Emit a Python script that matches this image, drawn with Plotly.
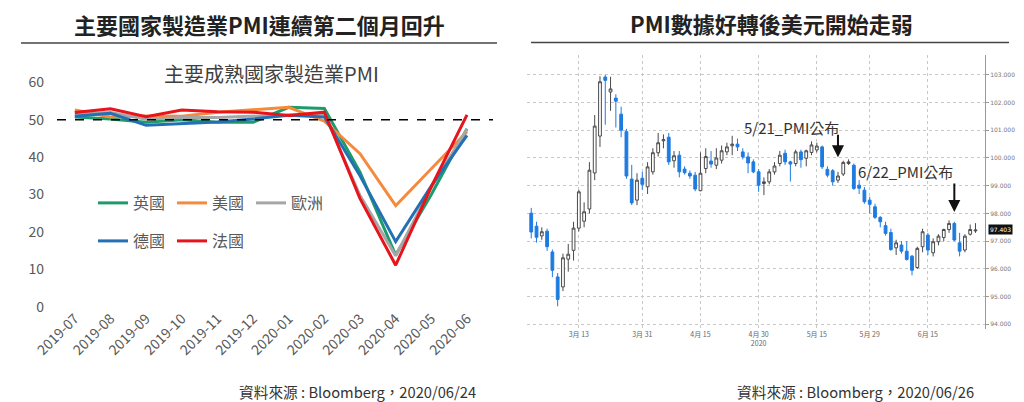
import plotly.graph_objects as go

# ---- left panel: composite PMI by country ----
months = ["2019-07", "2019-08", "2019-09", "2019-10", "2019-11", "2019-12",
          "2020-01", "2020-02", "2020-03", "2020-04", "2020-05", "2020-06"]
pmi_uk = [50.7, 50.2, 49.3, 50.0, 49.3, 49.3, 53.3, 53.0, 36.0, 13.8, 30.0, 47.6]
pmi_us = [52.6, 50.7, 51.0, 50.9, 52.0, 52.7, 53.3, 49.6, 40.9, 27.0, 37.0, 46.8]
pmi_eu = [51.5, 51.9, 50.1, 50.6, 50.6, 50.9, 51.3, 51.6, 29.7, 13.6, 31.9, 47.5]
pmi_de = [50.9, 51.7, 48.5, 48.9, 49.4, 50.2, 51.2, 50.7, 35.0, 17.4, 32.3, 45.8]
pmi_fr = [51.9, 52.9, 50.8, 52.6, 52.1, 52.0, 51.1, 52.0, 28.9, 11.1, 32.1, 51.3]

# ---- right panel: US dollar index daily candles ----
days = (
    ["2020-03-02", "2020-03-03", "2020-03-04", "2020-03-05", "2020-03-06",
     "2020-03-09", "2020-03-10", "2020-03-11", "2020-03-12", "2020-03-13",
     "2020-03-16", "2020-03-17", "2020-03-18", "2020-03-19", "2020-03-20",
     "2020-03-23", "2020-03-24", "2020-03-25", "2020-03-26", "2020-03-27",
     "2020-03-30", "2020-03-31"]
    + ["2020-04-01", "2020-04-02", "2020-04-03", "2020-04-06", "2020-04-07",
       "2020-04-08", "2020-04-09", "2020-04-10", "2020-04-13", "2020-04-14",
       "2020-04-15", "2020-04-16", "2020-04-17", "2020-04-20", "2020-04-21",
       "2020-04-22", "2020-04-23", "2020-04-24", "2020-04-27", "2020-04-28",
       "2020-04-29", "2020-04-30"]
    + ["2020-05-01", "2020-05-04", "2020-05-05", "2020-05-06", "2020-05-07",
       "2020-05-08", "2020-05-11", "2020-05-12", "2020-05-13", "2020-05-14",
       "2020-05-15", "2020-05-18", "2020-05-19", "2020-05-20", "2020-05-21",
       "2020-05-22", "2020-05-25", "2020-05-26", "2020-05-27", "2020-05-28",
       "2020-05-29"]
    + ["2020-06-01", "2020-06-02", "2020-06-03", "2020-06-04", "2020-06-05",
       "2020-06-08", "2020-06-09", "2020-06-10", "2020-06-11", "2020-06-12",
       "2020-06-15", "2020-06-16", "2020-06-17", "2020-06-18", "2020-06-19",
       "2020-06-22", "2020-06-23", "2020-06-24", "2020-06-25", "2020-06-26"]
)
dxy_open = [98.01, 97.54, 97.19, 97.36, 96.61, 95.71, 95.35, 96.35, 96.67, 97.47,
            97.72, 98.16, 99.46, 100.79, 102.92, 102.38, 102.16, 101.58, 100.95, 99.24,
            98.48, 99.27, 98.96, 99.50, 100.19, 100.62, 100.75, 99.90, 100.10, 99.60,
            99.45, 99.38, 98.82, 99.62, 99.89, 99.74, 99.92, 100.22, 100.44, 100.50,
            100.22, 100.04, 99.86, 99.50, 99.08, 99.14, 99.50, 99.80, 100.17, 99.86,
            99.80, 100.22, 99.99, 100.20, 100.29, 100.40, 99.59, 99.54, 99.20, 99.42,
            99.80, 99.74, 99.02, 98.84, 98.48, 98.24, 97.86, 97.56, 97.31, 96.76,
            96.86, 96.64, 96.46, 96.05, 96.80, 97.22, 96.58, 96.98, 97.13, 97.42,
            97.64, 96.94, 96.68, 97.25, 97.37]
dxy_close = [97.33, 97.14, 97.34, 96.80, 95.95, 94.90, 96.40, 96.53, 97.47, 98.78,
             98.06, 99.56, 101.15, 102.75, 102.80, 102.49, 102.05, 101.00, 99.35, 98.38,
             99.20, 99.05, 99.68, 100.19, 100.55, 100.66, 99.86, 100.08, 99.50, 99.47,
             99.35, 98.88, 99.45, 100.05, 99.78, 100.00, 100.26, 100.40, 100.50, 100.40,
             100.04, 99.82, 99.50, 99.02, 99.14, 99.50, 99.71, 100.10, 99.86, 99.78,
             100.22, 99.94, 100.26, 100.47, 100.43, 99.68, 99.38, 99.14, 99.35, 99.84,
             99.86, 98.90, 98.91, 98.42, 98.33, 97.86, 97.70, 97.28, 96.70, 96.94,
             96.64, 96.34, 95.95, 96.74, 97.34, 96.68, 96.98, 97.18, 97.42, 97.64,
             97.04, 96.64, 97.18, 97.42, 97.40]
dxy_high = [98.20, 97.70, 97.50, 97.45, 96.70, 95.85, 96.55, 96.90, 97.70, 98.85,
            98.40, 99.85, 101.55, 102.95, 103.00, 102.93, 102.30, 101.85, 101.05, 99.75,
            99.45, 99.50, 99.85, 100.35, 100.90, 100.85, 100.90, 100.25, 100.25, 99.70,
            99.55, 99.50, 100.20, 100.35, 100.25, 100.35, 100.45, 100.55, 100.80, 100.70,
            100.35, 100.20, 99.95, 99.60, 99.30, 99.60, 99.85, 100.25, 100.30, 99.90,
            100.30, 100.30, 100.30, 100.60, 100.55, 100.45, 99.70, 99.60, 99.50, 99.90,
            99.95, 99.80, 99.20, 98.95, 98.60, 98.35, 97.90, 97.70, 97.45, 97.05,
            97.00, 97.00, 96.50, 96.80, 97.45, 97.30, 97.10, 97.25, 97.45, 97.75,
            97.70, 97.30, 97.25, 97.60, 97.65]
dxy_low = [97.10, 96.95, 97.05, 96.65, 95.70, 94.65, 95.20, 95.90, 96.30, 97.35,
           97.50, 98.00, 99.20, 100.40, 101.20, 101.70, 101.10, 100.75, 99.25, 98.30,
           98.30, 98.85, 98.70, 99.40, 100.05, 100.35, 99.75, 99.65, 99.30, 99.40,
           99.25, 98.80, 98.80, 99.45, 99.65, 99.60, 99.80, 100.10, 100.10, 100.25,
           99.95, 99.45, 99.45, 98.78, 98.66, 99.05, 99.40, 99.70, 99.75, 99.15,
           99.70, 99.65, 99.70, 100.10, 100.20, 99.60, 99.30, 99.00, 99.10, 99.35,
           99.75, 98.85, 98.70, 98.35, 98.00, 97.80, 97.50, 97.20, 96.65, 96.50,
           96.55, 96.30, 95.77, 96.00, 96.60, 96.50, 96.45, 96.85, 97.00, 97.30,
           97.00, 96.45, 96.60, 97.20, 97.30]
last_price = 97.403

date_ticks = ["2020-03-13", "2020-03-31", "2020-04-15", "2020-04-30",
              "2020-05-15", "2020-05-29", "2020-06-15"]
date_labels = ["3月 13", "3月 31", "4月 15", "4月 30<br>2020", "5月 15", "5月 29", "6月 15"]

# the page puts the plot 8px in from the top-left corner, so the figure is
# made 8px smaller each way and every screen position below is shifted back
PAGE_PAD = 8
W, H = 1024 - PAGE_PAD, 402 - PAGE_PAD
CJK = "Noto Sans CJK TC"


def px_x(v):
    return (v - PAGE_PAD) / W


def px_y(v):
    return 1 - (v - PAGE_PAD) / H


fig = go.Figure()

series = [("英國", pmi_uk, "#1E9B6B", "legend"),
          ("美國", pmi_us, "#F58A3C", "legend"),
          ("歐洲", pmi_eu, "#A6A6A6", "legend"),
          ("德國", pmi_de, "#2470B4", "legend2"),
          ("法國", pmi_fr, "#E8141B", "legend2")]
for name, vals, color, leg in series:
    fig.add_trace(go.Scatter(x=months, y=vals, name=name, mode="lines",
                             line=dict(color=color, width=3),
                             xaxis="x", yaxis="y", legend=leg))

fig.add_trace(go.Candlestick(
    x=days, open=dxy_open, high=dxy_high, low=dxy_low, close=dxy_close,
    increasing=dict(fillcolor="white", line=dict(color="#4a4a4a", width=1)),
    decreasing=dict(fillcolor="#1E7BE0", line=dict(color="#1E7BE0", width=1)),
    xaxis="x2", yaxis="y2", showlegend=False))

axis_font = dict(family=CJK, size=14, color="#595959")
fig.update_layout(
    width=W, height=H,
    margin=dict(l=0, r=0, t=0, b=0),
    paper_bgcolor="white", plot_bgcolor="white",
    font=dict(family=CJK, color="#333"),
    boxgap=0.25,
    xaxis=dict(domain=[px_x(57), px_x(493)], range=[-0.5, 11.73], type="category",
               showgrid=False, zeroline=False, showline=False, ticks="",
               tickangle=-45, tickfont=dict(family=CJK, size=14, color="#595959"),
               automargin=False, anchor="y"),
    yaxis=dict(domain=[px_y(306.7), px_y(82.3)], range=[0, 60], dtick=10,
               showgrid=False, zeroline=False, showline=False, ticks="",
               tickfont=axis_font, ticklabelstandoff=12, automargin=False, anchor="x"),
    xaxis2=dict(domain=[px_x(527), px_x(985)], range=[-0.8, 85.8], type="category",
                rangeslider=dict(visible=False),
                tickvals=date_ticks, ticktext=date_labels,
                showgrid=True, gridcolor="#c8c8c8", griddash="dot", gridwidth=1,
                showline=False, zeroline=False, ticks="",
                tickfont=dict(family=CJK, size=7, color="#666"),
                automargin=False, anchor="y2"),
    yaxis2=dict(domain=[px_y(328.5), px_y(55.4)], range=[93.85, 103.7], side="right",
                dtick=1, tickformat=".3f",
                showgrid=True, gridcolor="#c8c8c8", griddash="dot", gridwidth=1,
                showline=True, linecolor="#999", linewidth=1,
                ticks="outside", ticklen=3, tickcolor="#999",
                tickfont=dict(family="DejaVu Sans", size=6, color="#777"),
                zeroline=False, automargin=False, anchor="x2"),
    legend=dict(orientation="h", x=px_x(93), y=px_y(203), xanchor="left", yanchor="middle",
                entrywidth=34, entrywidthmode="pixels", bgcolor="rgba(0,0,0,0)",
                font=dict(family=CJK, size=16, color="#595959")),
    legend2=dict(orientation="h", x=px_x(93), y=px_y(241), xanchor="left", yanchor="middle",
                 entrywidth=34, entrywidthmode="pixels", bgcolor="rgba(0,0,0,0)",
                 font=dict(family=CJK, size=16, color="#595959")),
)

# reference line at 50
fig.add_shape(type="line", xref="x domain", yref="y", x0=0, x1=1, y0=50, y1=50,
              line=dict(color="black", width=1.5, dash="dash"))

# title rules
fig.add_shape(type="line", xref="paper", yref="paper", x0=px_x(21), x1=px_x(497),
              y0=px_y(43), y1=px_y(43), line=dict(color="#444", width=1.5))
fig.add_shape(type="line", xref="paper", yref="paper", x0=px_x(531), x1=px_x(1009),
              y0=px_y(42.5), y1=px_y(42.5), line=dict(color="#444", width=1.5))

texts = [
    ("<b>主要國家製造業PMI連續第二個月回升</b>", 259, 24, 22, "#222"),
    ("<b>PMI數據好轉後美元開始走弱</b>", 771, 23, 22, "#222"),
    ("主要成熟國家製造業PMI", 271, 74, 20, "#404040"),
    ("資料來源 : Bloomberg，2020/06/24", 357, 391, 14.7, "#333"),
    ("資料來源 : Bloomberg，2020/06/26", 855, 391, 14.7, "#333"),
]
for t, x, y, s, c in texts:
    fig.add_annotation(text=t, xref="paper", yref="paper", x=px_x(x), y=px_y(y),
                       xanchor="center", yanchor="middle", showarrow=False,
                       font=dict(family=CJK, size=s, color=c))

# PMI release markers
fig.add_annotation(text="5/21_PMI公布", xref="paper", yref="paper", x=px_x(841), y=px_y(115),
                   showarrow=False, font=dict(family=CJK, size=15, color="#333"))
fig.add_annotation(text="6/22_PMI公布", xref="paper", yref="paper", x=px_x(955), y=px_y(171),
                   showarrow=False, font=dict(family=CJK, size=15, color="#333"))
fig.add_annotation(text="", xref="x2", yref="y2", x="2020-05-21", y=100.03,
                   showarrow=True, ax=0, ay=-24, arrowhead=2, arrowsize=1.2,
                   arrowwidth=2, arrowcolor="#111")
fig.add_annotation(text="", xref="x2", yref="y2", x="2020-06-22", y=98.05,
                   showarrow=True, ax=0, ay=-30, arrowhead=2, arrowsize=1.2,
                   arrowwidth=2, arrowcolor="#111")

# last price tag
fig.add_annotation(text=f"{last_price:.3f}", xref="paper", yref="y2", x=px_x(988), y=last_price,
                   xanchor="left", yanchor="middle", showarrow=False, bgcolor="#111",
                   font=dict(family="DejaVu Sans", size=6, color="white"), borderpad=1)

fig.write_html("out.html")
